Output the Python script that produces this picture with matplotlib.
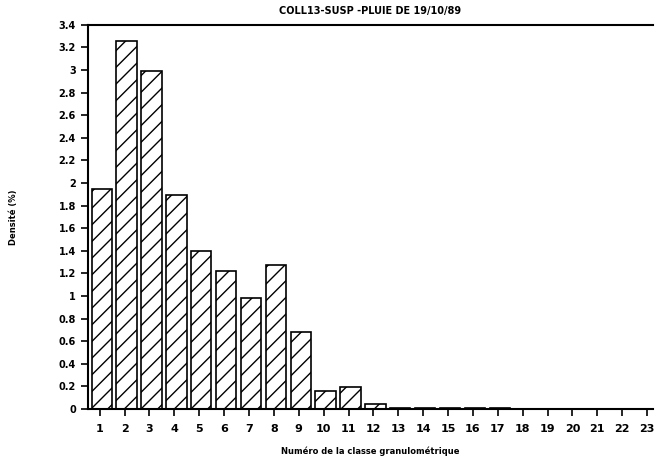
import matplotlib.pyplot as plt
import numpy as np

# Densité (%) par classe granulométrique
classes = list(range(1, 24))
densite = [1.95, 3.26, 2.99, 1.89, 1.40, 1.22, 0.98, 1.27, 0.68, 0.16,
           0.19, 0.04, 0.01, 0.005, 0.005, 0.004, 0.004, 0.003, 0.003,
           0.003, 0.002, 0.002, 0.002]
yticks = np.round(np.arange(0, 3.41, 0.2), 1)
ytick_labels = ['%g' % v for v in yticks]

plt.rcParams['hatch.linewidth'] = 1.0
fig = plt.figure(figsize=(6.55, 4.61), dpi=100)
ax = fig.add_axes([0.134, 0.113, 0.863, 0.833])

ax.bar(np.array(classes) + 0.08, densite, width=0.82, color='white',
       edgecolor='black', hatch='//', linewidth=1.2)

ax.set_xlim(0.52, 23.24)
ax.set_ylim(0, 3.4)
ax.set_xticks(classes)
ax.set_xticklabels([str(c) for c in classes], fontsize=8, fontweight='bold')
ax.set_yticks(yticks)
ax.set_yticklabels(ytick_labels, fontsize=7, fontweight='bold')
ax.tick_params(axis='both', direction='out', length=5, width=1.2)
ax.tick_params(axis='x', pad=6)

ax.spines['right'].set_visible(False)
for s in ['left', 'bottom', 'top']:
    ax.spines[s].set_linewidth(1.5)

ax.set_title('COLL13-SUSP -PLUIE DE 19/10/89', fontsize=7, fontweight='bold', pad=8)
ax.set_xlabel('Numéro de la classe granulométrique', fontsize=6, fontweight='bold', labelpad=9)
ax.set_ylabel('Densité (%)', fontsize=6, fontweight='bold', labelpad=29)

fig.savefig('out.png', dpi=100)
